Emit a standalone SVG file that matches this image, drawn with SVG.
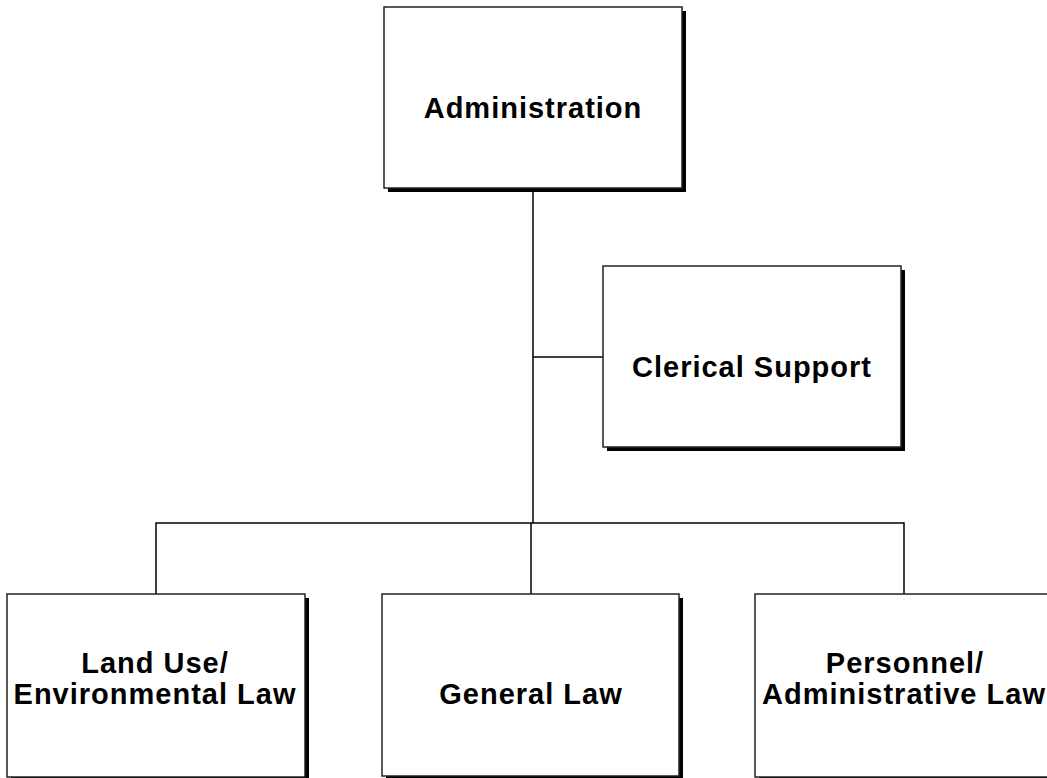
<svg xmlns="http://www.w3.org/2000/svg" width="1047" height="778" viewBox="0 0 1047 778">
  <style>
    .shadow { fill: #000; }
    .box { fill: #fff; stroke: #222; stroke-width: 1.5; }
    .label { font-family: "Liberation Sans", Arial, sans-serif; font-weight: bold; font-size: 29px; letter-spacing: 1px; fill: #000; text-anchor: middle; }
    .wire { fill: none; stroke: #000; stroke-width: 1.5; }
  </style>

  <!-- reporting lines -->
  <g id="connectors">
    <path class="wire" d="M533 188 V523"/>
    <path class="wire" d="M533 357 H603"/>
    <path class="wire" d="M156 594 V523 H904 V594"/>
    <path class="wire" d="M531 523 V594"/>
  </g>

  <g id="administration">
    <rect class="shadow" x="388" y="11" width="298" height="181"/>
    <rect class="box" x="384" y="7" width="298" height="181"/>
    <text class="label" x="533" y="118">Administration</text>
  </g>

  <g id="clerical-support">
    <rect class="shadow" x="607" y="270" width="298" height="181"/>
    <rect class="box" x="603" y="266" width="298" height="181"/>
    <text class="label" x="752" y="377">Clerical Support</text>
  </g>

  <g id="land-use">
    <rect class="shadow" x="11" y="598" width="298" height="183"/>
    <rect class="box" x="7" y="594" width="298" height="183"/>
    <text class="label" x="155" y="673">Land Use/</text>
    <text class="label" x="155" y="704">Environmental Law</text>
  </g>

  <g id="general-law">
    <rect class="shadow" x="386" y="598" width="297" height="183"/>
    <rect class="box" x="382" y="594" width="297" height="182"/>
    <text class="label" x="531" y="704">General Law</text>
  </g>

  <g id="personnel">
    <rect class="shadow" x="759" y="598" width="298" height="183"/>
    <rect class="box" x="755" y="594" width="298" height="183"/>
    <text class="label" x="905" y="673">Personnel/</text>
    <text class="label" x="904" y="704">Administrative Law</text>
  </g>
</svg>
